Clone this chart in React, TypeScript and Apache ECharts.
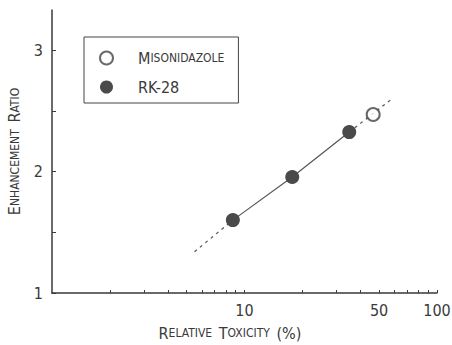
import { useEffect, useRef } from 'react';
import * as echarts from 'echarts';

const rk28Toxicity = [8.7, 17.7, 35];
const rk28Ratio = [1.6, 1.955, 2.325];
const misoToxicity = [46.6];
const misoRatio = [2.47];
const fitLowToxicity = [5.5, 8.7];
const fitLowRatio = [1.34, 1.6];
const fitHighToxicity = [35, 58.5];
const fitHighRatio = [2.325, 2.6];
const xTickLabels = [10, 50, 100];
const xTickMarks = [2, 3, 4, 5, 6, 7, 8, 9, 10, 20, 30, 40, 50, 60, 70, 80, 90, 100];
const yTickLabels = [1, 2, 3];
const yTickMarks = [1, 1.5, 2, 2.5, 3];

const FONT = "'Liberation Sans Narrow', 'DejaVu Sans Condensed', sans-serif";
const INK = '#3a3a3a';

const zip = (xs: number[], ys: number[]) => xs.map((x, i) => [x, ys[i]]);

export default function App() {
  const ref = useRef<HTMLDivElement>(null);
  useEffect(() => {
    if (!ref.current) return;
    const chart = echarts.init(ref.current, null, { renderer: 'svg' });
    const rich = {
      b: { fontSize: 16, fontFamily: FONT, color: INK, lineHeight: 14 },
      s: { fontSize: 12, fontFamily: FONT, color: INK, lineHeight: 14 },
    };
    chart.setOption({
      animation: false,
      backgroundColor: '#fff',
      grid: { left: 52, right: 15, top: 10, bottom: 52, outerBoundsMode: 'none' },
      legend: {
        orient: 'vertical',
        left: 84,
        top: 37,
        padding: [13, 14, 8, 15],
        itemGap: 13,
        itemWidth: 13,
        itemHeight: 13,
        borderColor: '#444',
        borderWidth: 1,
        data: [
          { name: 'Misonidazole', icon: 'emptyCircle' },
          { name: 'RK-28', icon: 'circle' },
        ],
        formatter: (name: string) =>
          name === 'Misonidazole' ? '{b|M}{s|ISONIDAZOLE}' : '{b|RK-28}',
        textStyle: { padding: [0, 0, 0, 20], rich },
      },
      xAxis: {
        type: 'log',
        logBase: 10,
        min: 1,
        max: 100,
        name: '{b|R}{s|ELATIVE}  {b|T}{s|OXICITY}  {b|(%)}',
        nameLocation: 'middle',
        nameGap: 33,
        nameTextStyle: { rich, padding: [0, 29, 0, 0] },
        axisLine: { lineStyle: { color: INK, width: 1.5 } },
        axisTick: { inside: true, length: 3, customValues: xTickMarks, lineStyle: { color: INK } },
        minorTick: { show: false },
        axisLabel: {
          customValues: xTickLabels,
          margin: 9,
          fontSize: 16,
          fontFamily: FONT,
          color: INK,
        },
        splitLine: { show: false },
      },
      yAxis: {
        type: 'value',
        min: 1,
        max: 3.33,
        name: '{b|E}{s|NHANCEMENT}  {b|R}{s|ATIO}',
        nameLocation: 'middle',
        nameGap: 29,
        nameTextStyle: { rich },
        axisLine: { lineStyle: { color: INK, width: 1.5 } },
        axisTick: { inside: true, length: 4, customValues: yTickMarks, lineStyle: { color: INK } },
        axisLabel: {
          customValues: yTickLabels,
          margin: 9,
          fontSize: 16,
          fontFamily: FONT,
          color: INK,
        },
        splitLine: { show: false },
      },
      series: [
        {
          name: 'fitLow',
          type: 'line',
          data: zip(fitLowToxicity, fitLowRatio),
          showSymbol: false,
          lineStyle: { color: '#555', width: 1.2, type: [3, 4] },
          z: 1,
        },
        {
          name: 'fitHigh',
          type: 'line',
          data: zip(fitHighToxicity, fitHighRatio),
          showSymbol: false,
          lineStyle: { color: '#555', width: 1.2, type: [3, 4] },
          z: 1,
        },
        {
          name: 'RK-28',
          type: 'line',
          data: zip(rk28Toxicity, rk28Ratio),
          symbol: 'circle',
          symbolSize: 14,
          itemStyle: { color: '#4a4a4a' },
          lineStyle: { color: '#555', width: 1.2 },
          z: 3,
        },
        {
          name: 'Misonidazole',
          type: 'scatter',
          data: zip(misoToxicity, misoRatio),
          symbol: 'emptyCircle',
          symbolSize: 13,
          itemStyle: { color: '#444', borderColor: '#444', borderWidth: 1.4 },
          z: 3,
        },
      ],
    });
    return () => chart.dispose();
  }, []);
  return (
    <div
      ref={ref}
      style={{ position: 'fixed', left: 0, top: 0, width: 452, height: 345 }}
    />
  );
}
